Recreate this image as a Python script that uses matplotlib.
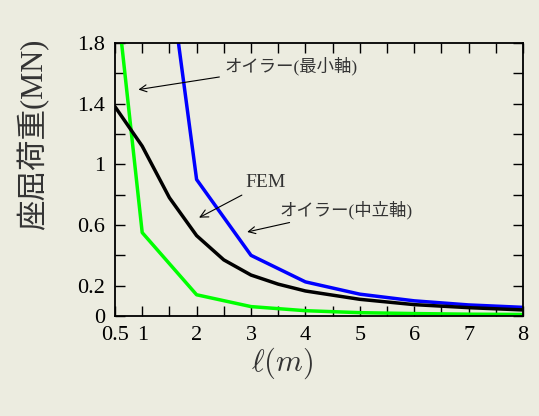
import numpy as np
import matplotlib.pyplot as plt

# data
length_fem = [0.5, 1, 1.5, 2, 2.5, 3, 3.5, 4, 5, 6, 7, 8]
load_fem = [1.38, 1.12, 0.78, 0.53, 0.37, 0.27, 0.21, 0.165, 0.11, 0.075, 0.055, 0.04]

length_euler = [0.5, 1, 2, 3, 4, 5, 6, 7, 8]
load_euler_mid = [14.4, 3.6, 0.9, 0.4, 0.225, 0.144, 0.1, 0.073, 0.057]
load_euler_min = [2.2, 0.55, 0.14, 0.062, 0.035, 0.022, 0.016, 0.012, 0.01]

x_ticks = [0.5, 1, 2, 3, 4, 5, 6, 7, 8]
y_ticks = [0, 0.2, 0.6, 1, 1.4, 1.8]

bg = '#ECECE0'
plt.rcParams['mathtext.fontset'] = 'cm'
serif = ['Liberation Serif', 'DejaVu Serif']
cjk = ['Liberation Serif', 'Noto Sans CJK JP', 'DejaVu Sans']

fig = plt.figure(figsize=(5.39, 4.16), dpi=100, facecolor=bg)
ax = fig.add_axes([115 / 539, 1 - 316 / 416, 408 / 539, 273 / 416])
ax.set_facecolor(bg)

ax.plot(length_euler, load_euler_min, color='#00FF00', lw=2.5)
ax.plot(length_euler, load_euler_mid, color='#0000FF', lw=2.5)
ax.plot(length_fem, load_fem, color='black', lw=2.5)

ax.set_xlim(0.5, 8)
ax.set_ylim(0, 1.8)
xt = np.arange(0.5, 8.01, 0.5)
ax.set_xticks(xt)
ax.set_xticklabels([('%g' % t) if t in x_ticks else '' for t in xt])
yt = np.round(np.arange(0, 1.81, 0.2), 1)
ax.set_yticks(yt)
ax.set_yticklabels([('%g' % t) if t in y_ticks else '' for t in yt])
ax.tick_params(direction='in', length=7, width=1, top=True, right=True, pad=7,
               labelsize=16, colors='black')
for lab in ax.get_xticklabels() + ax.get_yticklabels():
    lab.set_family(serif)
for s in ax.spines.values():
    s.set_linewidth(1.3)

ax.set_ylabel('座屈荷重(MN)', family=cjk, fontsize=22, color='#333333')
ax.yaxis.set_label_coords(-0.16, 0.667)
ax.set_xlabel(r'$\ell(m)$', fontsize=22, color='#333333')
ax.xaxis.set_label_coords(0.41, -0.11)

arrow = dict(arrowstyle='->', lw=0.8, color='black')
ax.annotate('オイラー(最小軸)', xy=(0.88, 1.49), xytext=(2.52, 1.65), family=cjk,
            fontsize=12.5, color='#333333', va='center', arrowprops=arrow)
ax.annotate('FEM', xy=(2.0, 0.64), xytext=(2.9, 0.88), family=serif,
            fontsize=14, color='#333333', va='center', arrowprops=arrow)
ax.annotate('オイラー(中立軸)', xy=(2.88, 0.55), xytext=(3.53, 0.70), family=cjk,
            fontsize=12.5, color='#333333', va='center', arrowprops=arrow)

fig.savefig('out.png', dpi=100, facecolor=bg)
